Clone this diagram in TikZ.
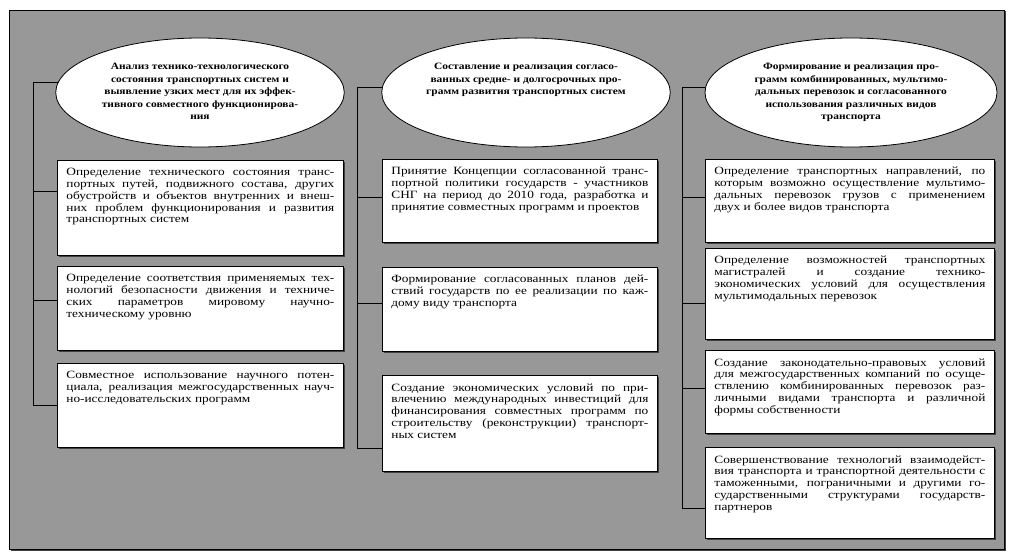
\documentclass[tikz,border=0pt]{standalone}
\usepackage{fontspec}
\setmainfont{Liberation Serif}
\newfontfamily\cellfont[FakeStretch=1.2]{Liberation Serif}
\newfontfamily\stagefont[FakeStretch=1.18]{Liberation Serif}
\usepackage{xcolor}
\usetikzlibrary{shapes.geometric, shadows}

\definecolor{panelgray}{RGB}{152,152,152}

% text block of a box: width, height, text
\newcommand{\cellbox}[3]{\parbox[t][#2][t]{#1}{\tolerance=9999 #3}}
\newcommand{\stagebox}[1]{\parbox[c][58pt][t]{204pt}{\centering #1\par}}

\begin{document}
\begin{tikzpicture}[x=1pt, y=-1pt, line width=0.8pt,
    cell/.style={draw, fill=white, anchor=north west, inner xsep=9pt, inner ysep=8pt,
      drop shadow={shadow xshift=1.2pt, shadow yshift=-1.2pt, opacity=1, fill=black!75},
      font=\cellfont\fontsize{11.1}{11.8}\selectfont},
    stage/.style={draw, fill=white, ellipse, inner sep=0pt, minimum height=109pt,
      font=\stagefont\bfseries\fontsize{9.7}{12.5}\selectfont}]

    \useasboundingbox (0,0) rectangle (1012,556);

    % --- BACKGROUND PANEL ---
    \fill[black!75] (10.5,11.5) rectangle (1005.5,550.5);
    \draw[fill=panelgray] (9,10) rectangle (1004,549);

    % --- TOP LEVEL: THREE DIRECTIONS ---
    \node[stage, minimum width=286pt] (e1) at (200,92.5) {\stagebox{Анализ технико-технологического\\
      состояния транспортных систем и\\
      выявление узких мест для их эффек-\\
      тивного совместного функционирова-\\
      ния}};
    \node[stage, minimum width=288pt] (e2) at (526,92.5) {\stagebox{Составление и реализация согласо-\\
      ванных средне- и долгосрочных про-\\
      грамм развития транспортных систем}};
    \node[stage, minimum width=292pt] (e3) at (851,92.5) {\stagebox{Формирование и реализация про-\\
      грамм комбинированных, мультимо-\\
      дальных перевозок и согласованного\\
      использования различных видов\\
      транспорта}};

    % --- COLUMN 1 ---
    \node[cell] (c11) at (57,160) {\cellbox{268pt}{79pt}{Определение технического состояния транс-\linebreak
      портных путей, подвижного состава, других\linebreak
      обустройств и объектов внутренних и внеш-\linebreak
      них проблем функционирования и развития\linebreak
      транспортных систем}};
    \node[cell] (c12) at (57,266) {\cellbox{268pt}{68pt}{Определение соответствия применяемых тех-\linebreak
      нологий безопасности движения и техниче-\linebreak
      ских параметров мировому научно-\linebreak
      техническому уровню}};
    \node[cell] (c13) at (57,363) {\cellbox{268pt}{68pt}{Совместное использование научного потен-\linebreak
      циала, реализация межгосударственных науч-\linebreak
      но-исследовательских программ}};

    % --- COLUMN 2 ---
    \node[cell] (c21) at (382,159) {\cellbox{257pt}{67pt}{Принятие Концепции согласованной транс-\linebreak
      портной политики государств - участников\linebreak
      СНГ на период до 2010 года, разработка и\linebreak
      принятие совместных программ и проектов}};
    \node[cell] (c22) at (382,267) {\cellbox{257pt}{68pt}{Формирование согласованных планов дей-\linebreak
      ствий государств по ее реализации по каж-\linebreak
      дому виду транспорта}};
    \node[cell] (c23) at (382,375) {\cellbox{257pt}{80pt}{Создание экономических условий по при-\linebreak
      влечению международных инвестиций для\linebreak
      финансирования совместных программ по\linebreak
      строительству (реконструкции) транспорт-\linebreak
      ных систем}};

    % --- COLUMN 3 ---
    \node[cell] (c31) at (705,159) {\cellbox{271pt}{67pt}{Определение транспортных направлений, по\linebreak
      которым возможно осуществление мультимо-\linebreak
      дальных перевозок грузов с применением\linebreak
      двух и более видов транспорта}};
    \node[cell] (c32) at (705,248) {\cellbox{271pt}{75pt}{Определение возможностей транспортных\linebreak
      магистралей и создание технико-\linebreak
      экономических условий для осуществления\linebreak
      мультимодальных перевозок}};
    \node[cell] (c33) at (705,350) {\cellbox{271pt}{67pt}{Создание законодательно-правовых условий\linebreak
      для межгосударственных компаний по осуще-\linebreak
      ствлению комбинированных перевозок раз-\linebreak
      личными видами транспорта и различной\linebreak
      фоpмы собственности}};
    \node[cell] (c34) at (705,447) {\cellbox{271pt}{75pt}{Совершенствование технологий взаимодейст-\linebreak
      вия транспорта и транспортной деятельности с\linebreak
      таможенными, пограничными и другими го-\linebreak
      сударственными структурами государств-\linebreak
      партнеров}};

    % --- CONNECTORS ---
    \draw (e1.176) -| ([xshift=-24pt]c13.west) -- (c13.west);
    \draw ([yshift=16.5pt]c11.west) -- ++(-24pt,0);
    \draw ([yshift=8.5pt]c12.west) -- ++(-24pt,0);

    \draw (e2.178) -| ([xshift=-25pt,yshift=-25pt]c23.west) -- ([yshift=-25pt]c23.west);
    \draw ([yshift=3.5pt]c21.west) -- ++(-25pt,0);
    \draw ([yshift=6pt]c22.west) -- ++(-25pt,0);

    \draw (e3.178) -| ([xshift=-23pt,yshift=-15.5pt]c34.west) -- ([yshift=-15.5pt]c34.west);
    \draw ([yshift=3.5pt]c31.west) -- ++(-23pt,0);
    \draw ([yshift=-9.5pt]c32.west) -- ++(-23pt,0);
    \draw ([yshift=3.5pt]c33.west) -- ++(-23pt,0);

\end{tikzpicture}
\end{document}
